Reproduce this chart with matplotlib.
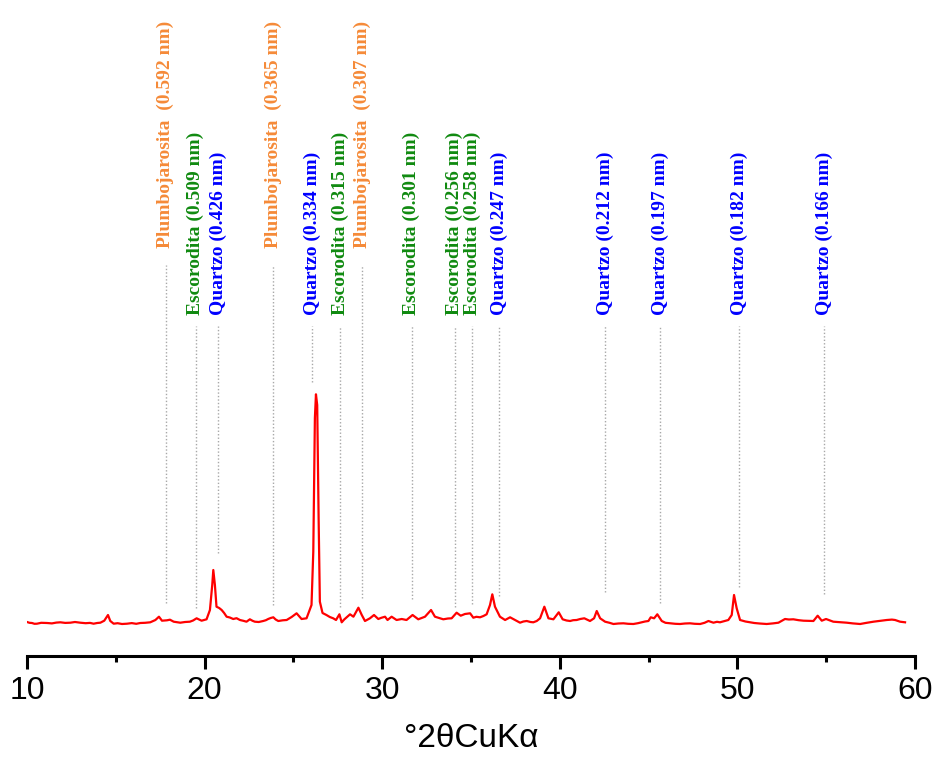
import matplotlib.pyplot as plt

# Difratograma (2theta em graus, intensidade em contagens)
two_theta = [10.00, 10.14, 10.28, 10.42, 10.56, 10.80, 11.13, 11.40, 11.65, 11.88,
             12.15, 12.44, 12.70, 13.00, 13.30, 13.55, 13.75, 13.95, 14.13, 14.35,
             14.56, 14.69, 14.88, 15.10, 15.35, 15.63, 15.90, 16.15, 16.38, 16.65,
             16.94, 17.23, 17.43, 17.60, 17.88, 18.05, 18.26, 18.45, 18.63, 18.90,
             19.17, 19.35, 19.55, 19.83, 20.11, 20.30, 20.43, 20.49, 20.58,
             20.67, 20.82, 20.96, 21.10, 21.24, 21.42, 21.61, 21.80, 21.99, 22.18, 22.36,
             22.55, 22.70, 22.83, 23.05, 23.30, 23.45, 23.58, 23.72, 23.87, 24.00,
             24.15, 24.40, 24.62, 24.90, 25.18, 25.46, 25.74, 26.02, 26.12, 26.21,
             26.27, 26.34, 26.42, 26.49, 26.64, 26.86, 27.05, 27.24, 27.40, 27.59, 27.72,
             27.86, 28.00, 28.19, 28.38, 28.66, 28.85, 29.03, 29.31, 29.54, 29.78, 29.95,
             30.16, 30.30, 30.53, 30.81, 31.10, 31.37, 31.71, 32.03, 32.41, 32.75,
             32.97, 33.20, 33.44, 33.70, 33.91, 34.19, 34.42, 34.66, 34.95, 35.13,
             35.30, 35.51, 35.70, 35.88, 36.07, 36.20, 36.35, 36.63, 36.92, 37.20,
             37.48, 37.76, 37.95, 38.14, 38.35, 38.51, 38.70, 38.89, 39.13, 39.36,
             39.64, 39.94, 40.16, 40.38, 40.58, 40.75, 40.95, 41.15, 41.38, 41.70,
             41.93, 42.08, 42.27, 42.55, 42.80, 43.02, 43.30, 43.58, 43.85, 44.14,
             44.40, 44.61, 44.80, 44.99, 45.12, 45.31, 45.49, 45.74, 45.95, 46.21,
             46.50, 46.77, 47.05, 47.33, 47.60, 47.90, 48.15, 48.37, 48.65, 48.85,
             49.02, 49.25, 49.49, 49.68, 49.81, 49.96, 50.15, 50.45, 50.71, 50.95,
             51.25, 51.65, 52.00, 52.31, 52.68, 52.90, 53.15, 53.45, 53.72, 54.00,
             54.28, 54.52, 54.75, 54.99, 55.20, 55.40, 55.75, 56.16, 56.50, 56.91,
             57.25, 57.66, 58.05, 58.41, 58.70, 58.88, 59.16, 59.44]
intensity = [380, 372, 370, 362, 363, 372, 370, 366, 374, 377,
             371, 373, 380, 373, 368, 371, 363, 370, 373, 393,
             450, 390, 363, 368, 360, 363, 369, 362, 370, 372,
             377, 400, 433, 393, 397, 403, 383, 378, 373, 380,
             383, 395, 417, 393, 407, 500, 750, 900, 750,
             533, 520, 500, 470, 433, 425, 410, 418, 400, 392, 383,
             407, 392, 383, 380, 390, 398, 410, 420, 427, 405,
             390, 397, 400, 430, 467, 410, 417, 550, 1083, 2420,
             2657, 2550, 1420, 583, 470, 450, 430, 417, 400, 457, 377,
             405, 427, 457, 433, 523, 450, 390, 417, 450, 410, 422,
             433, 400, 433, 400, 410, 400, 450, 407, 433, 500,
             433, 420, 407, 415, 417, 473, 443, 460, 467, 423,
             432, 427, 440, 457, 550, 657, 533, 433, 400, 427,
             400, 373, 385, 390, 380, 377, 390, 417, 533, 417,
             407, 477, 407, 395, 390, 398, 400, 410, 417, 390,
             417, 490, 417, 383, 372, 360, 365, 367, 362, 360,
             368, 377, 385, 390, 427, 417, 457, 390, 372, 367,
             362, 360, 365, 367, 362, 360, 372, 390, 373, 382,
             377, 388, 400, 450, 650, 517, 400, 385, 377, 370,
             365, 360, 366, 373, 410, 405, 407, 398, 393, 392,
             390, 443, 393, 410, 396, 383, 378, 373, 366, 360,
             371, 383, 392, 400, 404, 400, 383, 377]

# Identificação dos picos
peak_labels = ['Plumbojarosita  (0.592 nm)', 'Escorodita (0.509 nm)', 'Quartzo (0.426 nm)',
               'Plumbojarosita  (0.365 nm)', 'Quartzo (0.334 nm)', 'Escorodita (0.315 nm)',
               'Plumbojarosita  (0.307 nm)', 'Escorodita (0.301 nm)', 'Escorodita (0.256 nm)',
               'Escorodita (0.258 nm)', 'Quartzo (0.247 nm)', 'Quartzo (0.212 nm)',
               'Quartzo (0.197 nm)', 'Quartzo (0.182 nm)', 'Quartzo (0.166 nm)']
peak_pos = [17.80, 19.50, 20.77, 23.87, 26.07, 27.64, 28.86, 31.66, 34.08,
            35.06, 36.60, 42.55, 45.64, 50.10, 54.90]
line_bottom = [570, 520, 1070, 550, 2780, 530, 620, 610, 530,
               560, 640, 680, 570, 730, 660]

mineral_colors = {'Plumbojarosita': '#F58A38', 'Escorodita': '#108A10', 'Quartzo': '#0000FF'}

fig = plt.figure(figsize=(9.33, 7.6), dpi=100)
ax = fig.add_axes([27 / 933, 104.5 / 760, 888 / 933, 655.5 / 760])

ax.plot(two_theta, intensity, color='#FF0000', lw=1.6)

for label, x, yb in zip(peak_labels, peak_pos, line_bottom):
    mineral = label.split()[0]
    if mineral == 'Plumbojarosita':
        y_text, y_top = 4120, 3950
    else:
        y_text, y_top = 3450, 3340
    ax.plot([x, x], [yb, y_top], color='#A8A8A8', lw=1.0, ls=(0, (1, 1.5)))
    ax.text(x, y_text, label, rotation=90, rotation_mode='anchor',
            ha='left', va='center', color=mineral_colors[mineral],
            family='Liberation Serif', fontweight='bold', fontsize=14)

ax.set_xlim(10, 60)
ax.set_ylim(45, 6600)
for side in ['top', 'right', 'left']:
    ax.spines[side].set_visible(False)
ax.spines['bottom'].set_linewidth(2.2)
ax.set_yticks([])
ax.set_xticks([10, 20, 30, 40, 50, 60])
ax.set_xticks([15, 25, 35, 45, 55], minor=True)
ax.tick_params(axis='x', which='major', length=9, width=2.2, pad=6, labelsize=23)
ax.tick_params(axis='x', which='minor', length=4, width=2.2)
for t in ax.get_xticklabels():
    t.set_family('Liberation Sans')
ax.set_xlabel('°2θCuKα', family='Liberation Sans', fontsize=24, labelpad=12)

plt.savefig('out.png', dpi=100)
